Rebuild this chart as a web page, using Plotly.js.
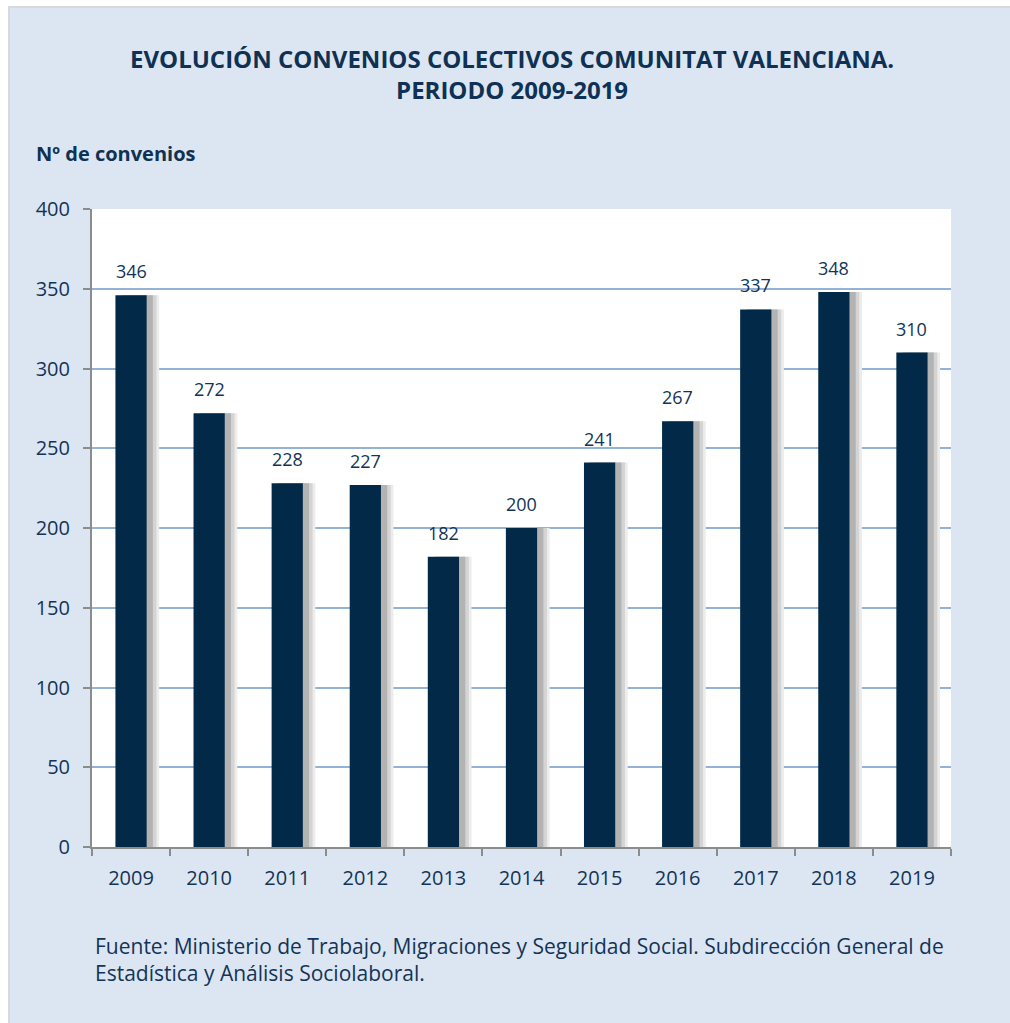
<!DOCTYPE html>
<html>
<head>
<meta charset="utf-8">
<script src="https://cdn.plot.ly/plotly-3.0.1.min.js"></script>
<style>
html,body{margin:0;padding:0;background:#ffffff;}
#frame{position:absolute;left:8px;top:6px;width:1000px;height:1015px;border:2px solid #d6d9de;border-right:none;border-bottom:none;}
#chart{width:1000px;height:1015px;}
</style>
</head>
<body>
<div id="frame"><div id="chart"></div></div>
<script>
const years = ['2009','2010','2011','2012','2013','2014','2015','2016','2017','2018','2019'];
const convenios = [346, 272, 228, 227, 182, 200, 241, 267, 337, 348, 310];
const yTicks = [0, 50, 100, 150, 200, 250, 300, 350, 400];

const titleText = '<b>EVOLUCIÓN CONVENIOS COLECTIVOS COMUNITAT VALENCIANA.</b><br><b>PERIODO 2009-2019</b>';
const yLabel = '<b>Nº de convenios</b>';
const sourceText = 'Fuente: Ministerio de Trabajo, Migraciones y Seguridad Social. Subdirección General de<br>Estadística y Análisis Sociolaboral.';

const FONT = '"Open Sans", "Liberation Sans", sans-serif';
const TXT = '#133457';

// plot area in page pixels
const L = 92, R = 951, T = 209, B = 847;
const px = x => (x - L) / (R - L);
const py = y => (B - y) / (B - T);

const shadow3 = {
  type: 'bar', x: years, y: convenios,
  width: 0.4, offset: -0.2 + 0.16,
  marker: {color: '#ececec', line: {width: 0}},
  hoverinfo: 'skip', showlegend: false
};
const shadow2 = {
  type: 'bar', x: years, y: convenios,
  width: 0.4, offset: -0.2 + 0.125,
  marker: {color: '#d4d4d4', line: {width: 0}},
  hoverinfo: 'skip', showlegend: false
};
const shadow1 = {
  type: 'bar', x: years, y: convenios,
  width: 0.4, offset: -0.2 + 0.08,
  marker: {color: '#b3b3b3', line: {width: 0}},
  hoverinfo: 'skip', showlegend: false
};
const main = {
  type: 'bar', x: years, y: convenios,
  width: 0.4, offset: -0.2,
  marker: {color: '#022a48', line: {width: 0}},
  showlegend: false
};

// category axis: annotation x given as category index
const valueLabels = years.map((yr, i) => ({
  x: i, y: convenios[i], xref: 'x', yref: 'y',
  text: String(convenios[i]), showarrow: false,
  yanchor: 'bottom', yshift: 10,
  font: {family: FONT, size: 18, color: TXT}
}));

const layout = {
  width: 1000, height: 1015,
  paper_bgcolor: '#dce6f2',
  plot_bgcolor: '#ffffff',
  margin: {l: L - 10, r: 1010 - R, t: T - 8, b: 1015 - (B - 8)},
  barmode: 'overlay',
  font: {family: FONT, color: TXT},
  xaxis: {
    type: 'category', range: [-0.5, years.length - 0.5],
    showline: true, linecolor: '#8c8c8c', linewidth: 2,
    ticks: 'outside', tickson: 'boundaries', ticklen: 7, tickcolor: '#8c8c8c', tickwidth: 2,
    tickfont: {family: FONT, size: 20, color: TXT}, tickangle: 0,
    ticklabelstandoff: 12,
    showgrid: false, zeroline: false, fixedrange: true
  },
  yaxis: {
    range: [0, 400],
    tickvals: yTicks,
    showline: true, linecolor: '#8c8c8c', linewidth: 2,
    ticks: 'outside', ticklen: 7, tickcolor: '#8c8c8c', tickwidth: 2,
    tickfont: {family: FONT, size: 20, color: TXT},
    ticklabelstandoff: 9,
    showgrid: true, gridcolor: '#94b2d6', gridwidth: 2,
    zeroline: false, fixedrange: true
  },
  annotations: [
    {xref: 'paper', yref: 'paper', x: px(512), y: py(74), xanchor: 'center', yanchor: 'middle',
     text: titleText, showarrow: false, align: 'center',
     font: {family: FONT, size: 24, color: '#0f3153'}},
    {xref: 'paper', yref: 'paper', x: px(34), y: py(154), xanchor: 'left', yanchor: 'middle',
     text: yLabel, showarrow: false, align: 'left',
     font: {family: FONT, size: 20, color: '#0f3153'}},
    {xref: 'paper', yref: 'paper', x: px(93), y: py(959), xanchor: 'left', yanchor: 'middle',
     text: sourceText, showarrow: false, align: 'left',
     font: {family: FONT, size: 21, color: TXT}}
  ].concat(valueLabels)
};

Plotly.newPlot('chart', [shadow3, shadow2, shadow1, main], layout, {displayModeBar: false, staticPlot: true});
</script>
</body>
</html>
